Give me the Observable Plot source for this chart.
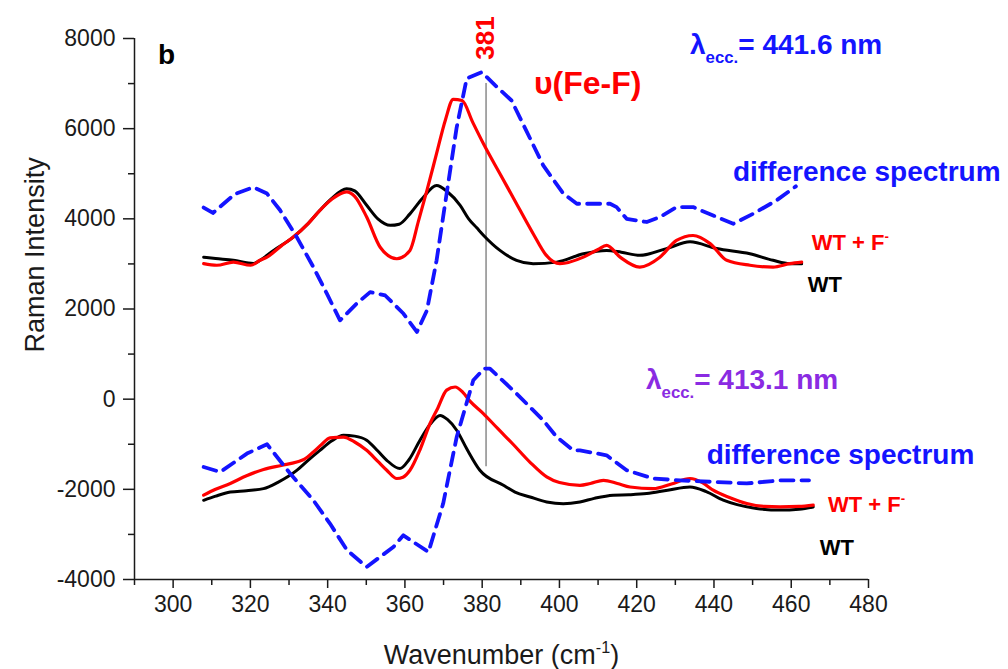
<!DOCTYPE html>
<html><head><meta charset="utf-8">
<script src="https://cdn.jsdelivr.net/npm/d3@7"></script>
<script src="https://cdn.jsdelivr.net/npm/@observablehq/plot@0.6"></script>
<style>body{margin:0;background:#fff}</style>
</head><body><div id="chart"></div>
<script>
// ---- data (wavenumber cm-1, Raman intensity) ----
const wt441 = [[307.9,3150],[311,3120],[315.6,3080],[320.8,3010],[322.5,3080],[326,3300],[331.1,3595],[335,3900],[338,4190],[341,4450],[344.9,4670],[347,4620],[350.1,4300],[353,4000],[356.2,3855],[358.5,3880],[361.3,4110],[364.5,4450],[368.2,4740],[371,4600],[374.3,4300],[376.5,4000],[378.6,3800],[380.5,3620],[384.6,3300],[388.9,3080],[393.2,3005],[399.3,3040],[406.2,3225],[412.2,3300],[416,3260],[420.8,3190],[427.7,3340],[433.8,3490],[440.7,3340],[449.3,3225],[455.3,3080],[459.6,3005],[462.7,3005]];
const wtF441 = [[307.9,3005],[311.3,2970],[315.6,3040],[320.1,2970],[322.5,3080],[324.3,3150],[328,3400],[331.1,3595],[335,3900],[338,4190],[341,4430],[344.9,4600],[347,4500],[350.1,4040],[353.6,3370],[357.9,3115],[361.3,3300],[363.5,3950],[365.7,4630],[368.2,5450],[370.5,6200],[372.5,6650],[374.8,6625],[377.5,6150],[380.3,5670],[384.6,5000],[388,4475],[393.2,3670],[396.5,3200],[400.1,3005],[406.2,3150],[410,3320],[412.2,3410],[415.7,3150],[420.8,2930],[426,3150],[430.3,3520],[434.6,3630],[439,3450],[443.3,3080],[449.3,2970],[455.3,2930],[459.6,3005],[462.7,3040]];
const diff441 = [[307.9,4250],[310.3,4130],[316,4550],[320.8,4700],[324.3,4560],[327.7,4190],[332,3595],[336.3,2930],[339.8,2340],[343.2,1748],[347.5,2120],[351,2375],[354.9,2300],[359.6,1900],[363.1,1490],[365.7,1970],[368.2,3080],[370.8,4560],[373.4,6030],[376,7113],[379.9,7253],[383.5,6950],[387.6,6625],[395.8,5185],[401,4560],[404.5,4335],[409.6,4335],[413.1,4335],[414.8,4260],[417.4,4000],[422.6,3930],[426,4040],[430.3,4260],[434.6,4260],[439.8,4075],[445,3890],[450.2,4115],[456.2,4410],[461.2,4720]];
const wt413 = [[307.9,-2243],[311,-2150],[314.8,-2060],[319,-2030],[323.4,-1985],[327,-1850],[332,-1580],[335,-1350],[338,-1135],[341,-930],[344.1,-800],[347,-820],[350.1,-910],[353,-1150],[355.3,-1355],[358.7,-1540],[361,-1350],[363.9,-910],[366.5,-560],[369.1,-360],[371,-450],[373.4,-690],[376,-1100],[379.4,-1577],[385.5,-1910],[388.5,-2060],[392.4,-2170],[396.7,-2280],[401,-2320],[405.3,-2280],[409,-2200],[413.9,-2130],[418,-2120],[422.6,-2095],[428,-2020],[433.8,-1948],[438,-2050],[442.4,-2240],[446,-2340],[451,-2425],[457.1,-2460],[462,-2440],[465.7,-2390]];
const wtF413 = [[307.9,-2130],[311,-2000],[314.8,-1870],[319,-1700],[323.4,-1560],[328,-1470],[332,-1393],[334,-1330],[336.3,-1170],[338.5,-1000],[340.6,-860],[344.1,-840],[347,-950],[350.1,-1135],[353,-1380],[355.3,-1577],[357.9,-1760],[359.5,-1730],[361.3,-1577],[364,-1100],[366.5,-540],[368.5,-200],[370.8,200],[373,270],[375,150],[376.9,-50],[380.3,-320],[384,-650],[388,-1000],[392.4,-1400],[396.7,-1725],[400,-1850],[405.3,-1910],[408,-1870],[411.4,-1800],[415,-1870],[418.3,-1948],[424.3,-1985],[429,-1880],[433.8,-1760],[437,-1850],[439.8,-2020],[444,-2180],[448.5,-2315],[453,-2380],[457.1,-2390],[462,-2380],[465.7,-2350]];
const diff413 = [[307.9,-1505],[312.2,-1615],[319.1,-1207],[324.3,-1000],[330.3,-1650],[336.3,-2243],[340.6,-2760],[345,-3350],[350.1,-3720],[357,-3280],[359.6,-3020],[362.2,-3170],[366.1,-3390],[369.9,-2315],[373.4,-840],[377.7,420],[380.5,680],[382,677],[388.9,123],[395.8,-470],[399.3,-840],[403.6,-1135],[405.3,-1135],[412.2,-1245],[417.4,-1577],[424.3,-1760],[431.2,-1800],[439.8,-1835],[448.5,-1870],[457.1,-1800],[464.6,-1800]];

const xTicks = [300,320,340,360,380,400,420,440,460,480];
const xMinor = [290,310,330,350,370,390,410,430,450,470];
const yTicks = [-4000,-2000,0,2000,4000,6000,8000];
const yMinor = [-3000,-1000,1000,3000,5000,7000];
const marker = [{x: 381, y1: -1500, y2: 7000, label: "381"}];

// annotation texts (x/y in data units, anchored at left)
const blueLabels = [
  {x: 433.8, y: 7845, text: "λ_{ecc.}= 441.6 nm"},
  {x: 444.9, y: 5030, text: "difference spectrum"},
  {x: 438.1, y: -1245, text: "difference spectrum"}
];
const purpleLabels = [{x: 422.4, y: 418, text: "λ_{ecc.}= 413.1 nm"}];
const redLabels = [
  {x: 465.3, y: 3455, text: "WT + F^{-}"},
  {x: 469.5, y: -2353, text: "WT + F^{-}"}
];
const blackLabels = [
  {x: 464.3, y: 2524, text: "WT"},
  {x: 467.4, y: -3307, text: "WT"}
];
const panelLabel = [{x: 296.1, y: 7623, text: "b"}];
const modeLabel = [{x: 393.4, y: 7000, text: "υ(Fe-F)"}];

const rows = pts => pts.map(([x, y]) => ({x, y}));
const bold = {fontWeight: "bold", fontFamily: "'Liberation Sans', Arial, sans-serif", textAnchor: "start"};
const smooth = "monotone-x";

const chart = Plot.plot({
  width: 1008, height: 669,
  marginLeft: 134, marginRight: 140, marginTop: 38, marginBottom: 90,
  style: {fontFamily: "'Liberation Sans', Arial, sans-serif", fontSize: "23px", color: "#1a1a1a", background: "#fff", overflow: "visible"},
  x: {domain: [290, 480]},
  y: {domain: [-4000, 8000]},
  marks: [
    Plot.axisX({ticks: xMinor, tickSize: 6, tickFormat: () => "", label: null, strokeWidth: 1.5}),
    Plot.axisX({ticks: xTicks, tickSize: 9, tickPadding: 7, label: null, strokeWidth: 1.5, fontSize: 23}),
    Plot.axisY({ticks: yMinor, tickSize: 6, tickFormat: () => "", label: null, strokeWidth: 1.5}),
    Plot.axisY({ticks: yTicks, tickSize: 11, tickPadding: 8, tickFormat: d => String(d), label: null, strokeWidth: 1.5, fontSize: 23}),
    Plot.ruleX([290], {y1: -4000, y2: 8000, stroke: "#1a1a1a", strokeWidth: 1.5}),
    Plot.ruleY([-4000], {x1: 290, x2: 480, stroke: "#1a1a1a", strokeWidth: 1.5}),
    Plot.ruleX(marker, {x: "x", y1: "y1", y2: "y2", stroke: "#8a8a8a", strokeWidth: 1.5}),
    Plot.line(rows(wt441), {x: "x", y: "y", stroke: "#000", strokeWidth: 3, curve: smooth}),
    Plot.line(rows(wt413), {x: "x", y: "y", stroke: "#000", strokeWidth: 3, curve: smooth}),
    Plot.line(rows(wtF441), {x: "x", y: "y", stroke: "#f00", strokeWidth: 3.2, curve: smooth}),
    Plot.line(rows(wtF413), {x: "x", y: "y", stroke: "#f00", strokeWidth: 3.2, curve: smooth}),
    Plot.line(rows(diff441), {x: "x", y: "y", stroke: "#1414ff", strokeWidth: 3.8, strokeDasharray: "13,8", curve: "linear"}),
    Plot.line(rows(diff413), {x: "x", y: "y", stroke: "#1414ff", strokeWidth: 3.8, strokeDasharray: "13,8", curve: "linear"}),
    Plot.text(marker, {x: "x", y: 8010, text: "label", rotate: -90, fill: "#f00", fontSize: 26, fontWeight: "bold", fontFamily: "'Liberation Sans', Arial, sans-serif"}),
    Plot.text(panelLabel, {x: "x", y: "y", text: "text", fill: "#000", fontSize: 28, ...bold}),
    Plot.text(modeLabel, {x: "x", y: "y", text: "text", fill: "#f00", fontSize: 32, ...bold}),
    Plot.text(blueLabels, {x: "x", y: "y", text: "text", fill: "#1414ff", fontSize: 28, ...bold}),
    Plot.text(purpleLabels, {x: "x", y: "y", text: "text", fill: "#8a2be2", fontSize: 28, ...bold}),
    Plot.text(redLabels, {x: "x", y: "y", text: "text", fill: "#f00", fontSize: 22, ...bold}),
    Plot.text(blackLabels, {x: "x", y: "y", text: "text", fill: "#000", fontSize: 22, ...bold}),
    Plot.text([{x: 290, y: 3200}], {x: "x", y: "y", text: () => "Raman Intensity", rotate: -90, dx: -99, fontSize: 27, fill: "#1a1a1a"}),
    Plot.text([{x: 385, y: -4000}], {x: "x", y: "y", text: () => "Wavenumber (cm^{-1})", dy: 76, fontSize: 27, fill: "#1a1a1a"})
  ]
});
document.getElementById("chart").appendChild(chart);

// rich text: _{sub} and ^{sup}
d3.select(chart).selectAll("text").each(function() {
  const raw = this.textContent;
  if (!/[_^]\{/.test(raw)) return;
  const fs = parseFloat(getComputedStyle(this).fontSize) || 20;
  const sel = d3.select(this);
  sel.text(null);
  let cur = 0;
  raw.split(/([_^]\{[^}]*\})/).filter(Boolean).forEach(part => {
    const m = part.match(/^([_^])\{(.*)\}$/);
    const target = m ? (m[1] === "_" ? 0.32 * fs : -0.42 * fs) : 0;
    const ts = sel.append("tspan").text(m ? m[2] : part).attr("dy", target - cur);
    if (m) ts.attr("font-size", fs * 0.6);
    cur = target;
  });
});
</script>
</body></html>
